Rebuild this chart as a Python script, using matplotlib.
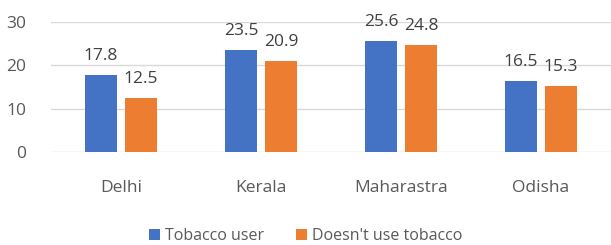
import numpy as np
import matplotlib.pyplot as plt

plt.rcParams['font.family'] = ['Open Sans', 'DejaVu Sans']

states = ['Delhi', 'Kerala', 'Maharastra', 'Odisha']
tobacco_user = [17.8, 23.5, 25.6, 16.5]
non_user = [12.5, 20.9, 24.8, 15.3]

blue = '#4472C4'
orange = '#ED7D31'
txt = '#595959'

fig = plt.figure(figsize=(6.11, 2.45), dpi=100)
ax = fig.add_axes([51 / 611, 1 - 152 / 245, 560 / 611, 130 / 245])

x = np.arange(len(states))
w = 0.229
b1 = ax.bar(x - 0.143, tobacco_user, w, color=blue, label='Tobacco user', zorder=3)
b2 = ax.bar(x + 0.143, non_user, w, color=orange, label="Doesn't use tobacco", zorder=3)

# value labels sit well above each bar
for bars in (b1, b2):
    for r in bars:
        ax.annotate(f'{r.get_height():.1f}', (r.get_x() + r.get_width() / 2, r.get_height()),
                    xytext=(0, 11), textcoords='offset pixels',
                    ha='center', va='bottom', fontsize=12.5, color='#404040')

ax.set_xlim(-0.5, 3.5)
ax.set_ylim(0, 30)
ax.set_yticks([0, 10, 20, 30])
ax.set_xticks(x)
ax.set_xticklabels(states)
ax.tick_params(axis='both', length=0, labelsize=12.5, labelcolor=txt)
ax.tick_params(axis='x', pad=20)
ax.tick_params(axis='y', pad=18)
ax.grid(axis='y', color='#D9D9D9', linewidth=1, zorder=0)
for s in ax.spines.values():
    s.set_visible(False)

fig.legend(handles=[b1, b2], loc='center', bbox_to_anchor=(0.5, 1 - 236 / 245),
           ncol=2, frameon=False, fontsize=11.5, labelcolor=txt,
           handlelength=0.7, handleheight=0.7, handletextpad=0.3, columnspacing=2.0)

fig.savefig('out.png', dpi=100)
